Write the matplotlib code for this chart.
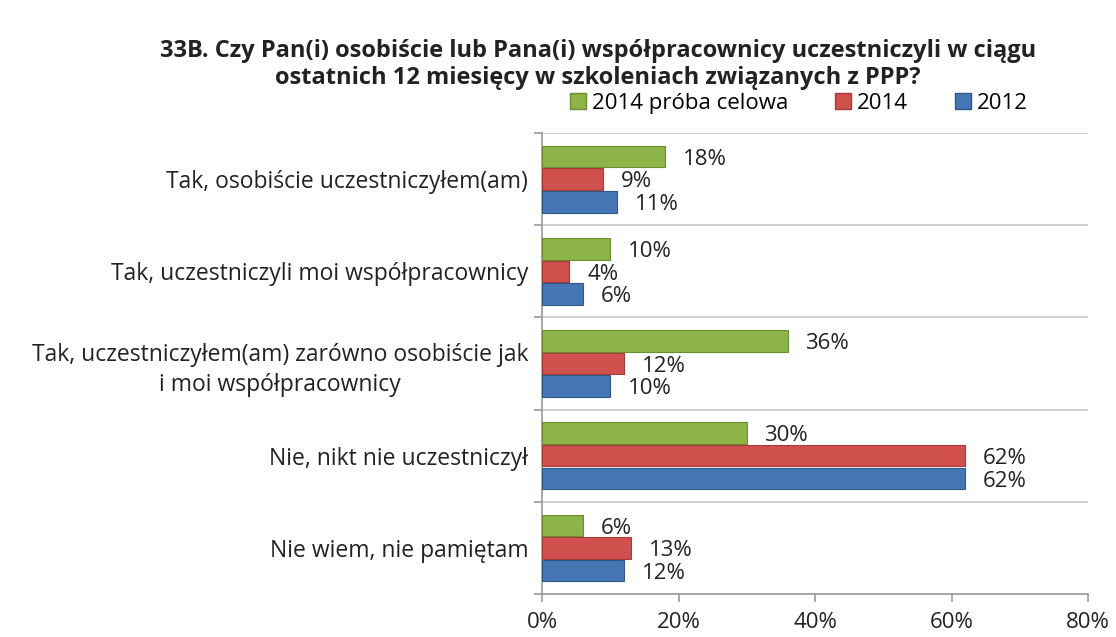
import numpy as np
import matplotlib.pyplot as plt
from matplotlib.patches import Patch

plt.rcParams['font.family'] = ['Open Sans', 'DejaVu Sans']

# Data
categories = [
    'Tak, osobiście uczestniczyłem(am)',
    'Tak, uczestniczyli moi współpracownicy',
    'Tak, uczestniczyłem(am) zarówno osobiście jak\ni moi współpracownicy',
    'Nie, nikt nie uczestniczył',
    'Nie wiem, nie pamiętam',
]
series_names = ['2014 próba celowa', '2014', '2012']
v_2014_celowa = [18, 10, 36, 30, 6]
v_2014 = [9, 4, 12, 62, 13]
v_2012 = [11, 6, 10, 62, 12]
x_ticks = [0, 20, 40, 60, 80]
title = ('33B. Czy Pan(i) osobiście lub Pana(i) współpracownicy uczestniczyli w ciągu\n'
         'ostatnich 12 miesięcy w szkoleniach związanych z PPP?')

face = ['#8cb449', '#d0504d', '#4677b5']
edge = ['#6b8e32', '#a53c3a', '#2f5888']

fig = plt.figure(figsize=(11.16, 6.37), dpi=100)
ax = fig.add_axes([0.4857, 0.0675, 0.4893, 0.7235])

n = len(categories)
y = np.arange(n)
h = 0.245
offsets = [-h, 0, h]
values = [v_2014_celowa, v_2014, v_2012]

for s, (vals, off) in enumerate(zip(values, offsets)):
    ax.barh(y + off, vals, height=h * 0.95, color=face[s], edgecolor=edge[s],
            linewidth=0.8, zorder=3)
    for yi, v in zip(y, vals):
        ax.text(v + 2.6, yi + off + 0.03, f'{v}%', va='center', ha='left',
                fontsize=16, color='#222222')

ax.set_ylim(n - 0.5, -0.5)
ax.set_xlim(0, 80)

ax.set_yticks(y)
ax.set_yticklabels(categories, fontsize=16.5, multialignment='center', linespacing=1.35)
ax.tick_params(axis='y', which='major', length=0, pad=10, colors='#222222')
ax.set_yticks(np.arange(-0.5, n), minor=True)
ax.tick_params(axis='y', which='minor', length=6, width=1.2, color='#999999')
ax.grid(axis='y', which='minor', color='#c8c8c8', linewidth=1.2, zorder=0)

ax.set_xticks(x_ticks)
ax.set_xticklabels([f'{t}%' for t in x_ticks], fontsize=16, color='#222222')
ax.tick_params(axis='x', length=6, width=1.2, color='#999999', pad=7)

for side in ['top', 'right']:
    ax.spines[side].set_visible(False)
for side in ['left', 'bottom']:
    ax.spines[side].set_color('#999999')
    ax.spines[side].set_linewidth(1.2)

handles = [Patch(facecolor=face[i], edgecolor=edge[i], label=series_names[i]) for i in range(3)]
fig.legend(handles=handles, loc='center', bbox_to_anchor=(0.716, 0.838), ncol=3,
           frameon=False, fontsize=16, handlelength=0.72, handleheight=0.72,
           handletextpad=0.27, columnspacing=2.1)

fig.text(0.536, 0.899, title, ha='center', va='center', fontsize=17,
         fontweight='bold', color='#222222', linespacing=1.15)

fig.savefig('out.png', dpi=100)
